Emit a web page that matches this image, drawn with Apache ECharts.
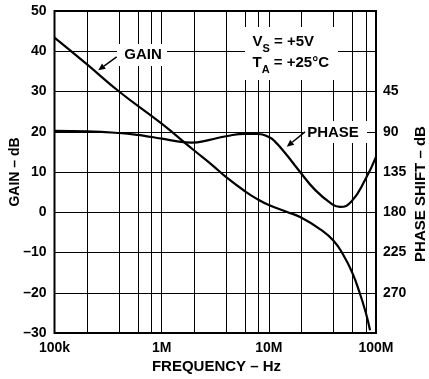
<!DOCTYPE html>
<html>
<head>
<meta charset="utf-8">
<script src="https://cdn.jsdelivr.net/npm/echarts@6/dist/echarts.min.js"></script>
<style>
  html, body { margin: 0; padding: 0; background: #fff; }
  #main { width: 429px; height: 379px; }
</style>
</head>
<body>
<div id="main"></div>
<script>
// Open-loop gain and phase vs. frequency
const FONT = '"Liberation Sans", Arial, Helvetica, sans-serif';

// Gain curve (dB)
const gainFreqHz = [1e5, 2e5, 4e5, 1e6, 2e6, 3e6, 4e6, 6e6, 8e6, 1e7, 1.5e7, 2e7, 3e7, 4e7, 5e7, 6e7, 7e7, 8e7, 8.8e7];
const gainDb     = [43.4, 36.8, 30.0, 22.0, 15.4, 11.6, 8.7, 5.2, 3.1, 1.8, 0.0, -1.3, -4.2, -7.0, -10.8, -15.0, -19.8, -24.8, -29.3];

// Phase curve (degrees, right axis)
const phaseFreqHz = [1e5, 2e5, 4e5, 6e5, 8e5, 1e6, 1.4e6, 1.9e6, 2.8e6, 4e6, 6e6, 8e6, 1e7, 1.13e7, 1.4e7, 1.9e7, 2.7e7, 3.8e7, 4.6e7, 5.9e7, 7.9e7, 1e8];
const phaseDeg    = [89.1, 89.6, 91.4, 93.5, 95.9, 97.7, 100.8, 102.2, 99.0, 95.0, 92.3, 92.5, 96.0, 100.5, 113, 133, 155, 170, 174, 168, 144, 118];

// Intermediate vertical grid lines (2, 4, 6, 8 per decade)
const minorGridHz = [2e5, 4e5, 6e5, 8e5, 2e6, 4e6, 6e6, 8e6, 2e7, 4e7, 6e7, 8e7];

// Tick labels
const freqTickLabels = { 1e5: '100k', 1e6: '1M', 1e7: '10M', 1e8: '100M' };
const phaseTickValues = [45, 90, 135, 180, 225, 270];

const zip = (xs, ys) => xs.map((x, i) => [x, ys[i]]);
const fmtDb = v => (v < 0 ? '\u2013' + Math.abs(v) : String(v));

const chart = echarts.init(document.getElementById('main'), null, { renderer: 'canvas' });

const labelStyle = { color: '#000', fontFamily: FONT, fontWeight: 'bold', fontSize: 14 };

chart.setOption({
  animation: false,
  backgroundColor: '#fff',
  grid: { left: 54.5, right: 53, top: 11, bottom: 46, show: true, borderColor: '#000', borderWidth: 2, backgroundColor: 'transparent' },
  xAxis: {
    type: 'log', logBase: 10, min: 1e5, max: 1e8,
    axisLine: { show: false },
    axisTick: { show: false },
    splitLine: { show: true, lineStyle: { color: '#000', width: 1 } },
    axisLabel: Object.assign({ margin: 8, formatter: v => freqTickLabels[Math.round(v)] || '' }, labelStyle)
  },
  yAxis: [
    {
      type: 'value', min: -30, max: 50, interval: 10, position: 'left',
      axisLine: { show: false }, axisTick: { show: false },
      splitLine: { show: true, lineStyle: { color: '#000', width: 1 } },
      axisLabel: Object.assign({ margin: 8, formatter: fmtDb }, labelStyle)
    },
    {
      type: 'value', min: -45, max: 315, interval: 45, position: 'right', inverse: true,
      axisLine: { show: false }, axisTick: { show: false }, splitLine: { show: false },
      axisLabel: Object.assign({ margin: 7, formatter: v => phaseTickValues.includes(v) ? String(v) : '' }, labelStyle)
    }
  ],
  series: [
    {
      name: 'grid',
      type: 'custom',
      z: 1,
      silent: true,
      data: minorGridHz.map(f => [f]),
      renderItem: (params, api) => {
        const f = api.value(0);
        const a = api.coord([f, 50]);
        const b = api.coord([f, -30]);
        const x = Math.round(a[0]) + 0.5;
        return { type: 'line', shape: { x1: x, y1: a[1], x2: x, y2: b[1] }, style: { stroke: '#000', lineWidth: 1 } };
      }
    },
    {
      name: 'GAIN', type: 'line', z: 10, yAxisIndex: 0,
      data: zip(gainFreqHz, gainDb),
      smooth: 0.5, showSymbol: false,
      lineStyle: { color: '#000', width: 2.2 }
    },
    {
      name: 'PHASE', type: 'line', z: 10, yAxisIndex: 1,
      data: zip(phaseFreqHz, phaseDeg),
      smooth: 0.5, showSymbol: false,
      lineStyle: { color: '#000', width: 2.2 }
    }
  ]
});

// Annotations: labels with white backing, arrows, conditions box, axis titles
const ctx = document.createElement('canvas').getContext('2d');
function textW(str, size) { ctx.font = 'bold ' + size + 'px ' + FONT; return ctx.measureText(str).width; }

function txt(x, y, s, size, align, rot) {
  return {
    type: 'text', z: 20, x: x, y: y, rotation: rot || 0,
    style: { text: s, fill: '#000', font: 'bold ' + size + 'px ' + FONT, align: align || 'left', verticalAlign: 'middle' }
  };
}
function box(x, y, w, h) {
  return { type: 'rect', z: 5, shape: { x: x, y: y, width: w, height: h }, style: { fill: '#fff' } };
}
function arrow(tip, dx, dy) {
  const tail = [tip[0] + dx, tip[1] + dy];
  const len = Math.hypot(dx, dy);
  const ux = -dx / len, uy = -dy / len;   // direction tail -> tip
  const hl = 7, hw = 3.2;
  const bx = tip[0] - ux * hl, by = tip[1] - uy * hl;
  return [
    { type: 'line', z: 20, shape: { x1: tail[0], y1: tail[1], x2: bx, y2: by }, style: { stroke: '#000', lineWidth: 1.5 } },
    { type: 'polygon', z: 20, shape: { points: [tip, [bx - uy * hw, by + ux * hw], [bx + uy * hw, by - ux * hw]] }, style: { fill: '#000' } }
  ];
}

const gainTip = chart.convertToPixel({ xAxisIndex: 0, yAxisIndex: 0 }, [2.56e5, 35.3]);
const phaseTip = chart.convertToPixel({ xAxisIndex: 0, yAxisIndex: 0 }, [1.47e7, 16.3]);

const elements = [];
elements.push(box(117, 44, 50, 22));
elements.push(txt(143, 55, 'GAIN', 15, 'center'));
elements.push(...arrow(gainTip, 18.4, -13.3));

elements.push(box(303, 121, 64, 22));
elements.push(txt(333, 132.5, 'PHASE', 15, 'center'));
elements.push(...arrow(phaseTip, 18.3, -14.7));

// Conditions
elements.push(box(245, 27, 93, 53));
let x0 = 252.5;
elements.push(txt(x0, 41.5, 'V', 15));
let wV = textW('V', 15);
elements.push(txt(x0 + wV, 48.5, 'S', 11));
elements.push(txt(x0 + wV + textW('S', 11), 41.5, ' = +5V', 15));
elements.push(txt(x0, 62.5, 'T', 15));
let wT = textW('T', 15);
elements.push(txt(x0 + wT, 69.5, 'A', 11));
elements.push(txt(x0 + wT + textW('A', 11), 62.5, ' = +25\u00B0C', 15));

// Axis titles
elements.push(txt(216.5, 366.5, 'FREQUENCY \u2013 Hz', 15, 'center'));
elements.push(txt(15.5, 172, 'GAIN \u2013 dB', 14, 'center', Math.PI / 2));
elements.push(txt(421, 194, 'PHASE SHIFT \u2013 dB', 15, 'center', Math.PI / 2));

chart.setOption({ graphic: { elements: elements } });
</script>
</body>
</html>
